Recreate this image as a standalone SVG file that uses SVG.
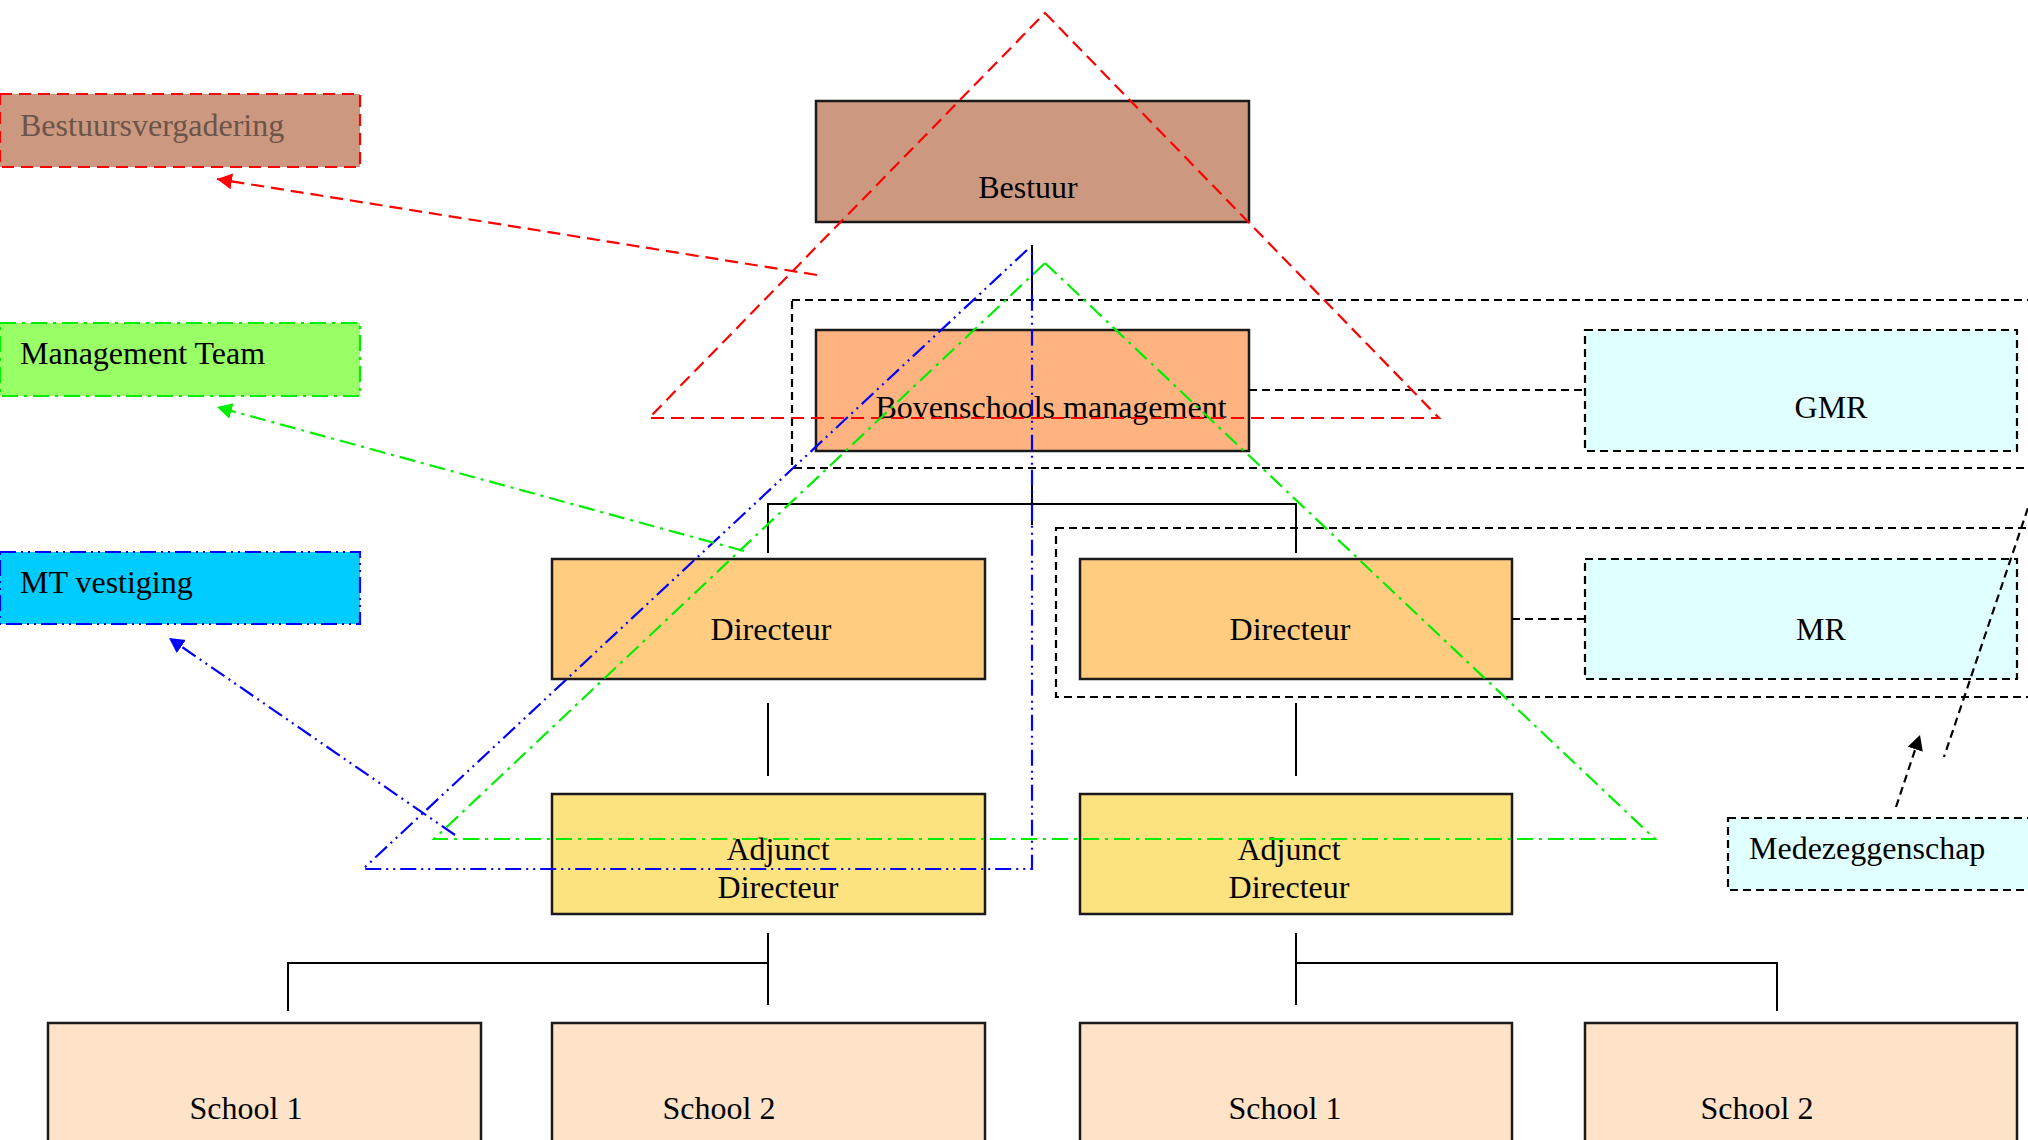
<svg xmlns="http://www.w3.org/2000/svg" width="2028" height="1140" viewBox="0 0 2028 1140">
<style>
  .box { stroke: #1a1a1a; stroke-width: 2.5; }
  .lbl { font-family: "Liberation Serif", "Times New Roman", serif; font-size: 32px; fill: #000; }
  .mid { text-anchor: middle; }
  .tree { fill: none; stroke: #000; stroke-width: 2; }
  .blk-dash { fill: none; stroke: #000; stroke-width: 2.2; stroke-dasharray: 8,5; }
  .red-dash { fill: none; stroke: #ff0000; stroke-width: 2.2; stroke-dasharray: 13,7; }
  .grn-dd { fill: none; stroke: #00ee00; stroke-width: 2.2; stroke-dasharray: 16,6,3,6; }
  .blu-ddd { fill: none; stroke: #0000ff; stroke-width: 2.2; stroke-dasharray: 16,5,2,5,2,5; }
</style>
<defs>
  <marker id="arRed" markerUnits="userSpaceOnUse" markerWidth="16" markerHeight="18" refX="15" refY="8" orient="auto">
    <path d="M0,0 L15,8 L0,16 z" fill="#ff0000"/>
  </marker>
  <marker id="arGrn" markerUnits="userSpaceOnUse" markerWidth="16" markerHeight="18" refX="15" refY="8" orient="auto">
    <path d="M0,0 L15,8 L0,16 z" fill="#00ee00"/>
  </marker>
  <marker id="arBlu" markerUnits="userSpaceOnUse" markerWidth="16" markerHeight="18" refX="15" refY="8" orient="auto">
    <path d="M0,0 L15,8 L0,16 z" fill="#0000ff"/>
  </marker>
  <marker id="arBlk" markerUnits="userSpaceOnUse" markerWidth="16" markerHeight="18" refX="15" refY="8" orient="auto">
    <path d="M0,0 L15,8 L0,16 z" fill="#000"/>
  </marker>
</defs>
<rect width="2028" height="1140" fill="#ffffff"/>

<!-- legend nodes -->
<g id="bestuursvergadering">
  <rect x="0" y="94" width="360" height="73" fill="#cc9980" stroke="#ff0000" stroke-width="2.2" stroke-dasharray="12,7"/>
  <text class="lbl" x="20" y="136" style="fill:#6b5449">Bestuursvergadering</text>
</g>
<g id="management-team">
  <rect x="0" y="323" width="360" height="73" fill="#99ff66" stroke="#00ee00" stroke-width="2.2" stroke-dasharray="16,6,3,6"/>
  <text class="lbl" x="20" y="364">Management Team</text>
</g>
<g id="mt-vestiging">
  <rect x="0" y="552" width="360" height="72" fill="#00ccff" stroke="#0000ff" stroke-width="2.2" stroke-dasharray="16,5,2,5,2,5"/>
  <text class="lbl" x="20" y="593">MT vestiging</text>
</g>

<!-- org nodes -->
<g id="bestuur">
  <rect class="box" x="816" y="101" width="433" height="121" fill="#cc9980"/>
  <text class="lbl mid" x="1028" y="198">Bestuur</text>
</g>
<g id="bovenschools-management">
  <rect class="box" x="816" y="330" width="433" height="121" fill="#ffb380"/>
  <text class="lbl mid" x="1051" y="418">Bovenschools management</text>
</g>
<g id="gmr">
  <rect x="1585" y="330" width="432" height="121" fill="#e0ffff" stroke="#000" stroke-width="2.2" stroke-dasharray="8,5"/>
  <text class="lbl mid" x="1831" y="418">GMR</text>
</g>
<g id="directeur-1">
  <rect class="box" x="552" y="559" width="433" height="120" fill="#ffcc80"/>
  <text class="lbl mid" x="771" y="640">Directeur</text>
</g>
<g id="directeur-2">
  <rect class="box" x="1080" y="559" width="432" height="120" fill="#ffcc80"/>
  <text class="lbl mid" x="1290" y="640">Directeur</text>
</g>
<g id="mr">
  <rect x="1585" y="559" width="432" height="120" fill="#e0ffff" stroke="#000" stroke-width="2.2" stroke-dasharray="8,5"/>
  <text class="lbl mid" x="1821" y="640">MR</text>
</g>
<g id="adjunct-directeur-1">
  <rect class="box" x="552" y="794" width="433" height="120" fill="#fde280"/>
  <text class="lbl mid" x="778" y="860">Adjunct</text>
  <text class="lbl mid" x="778" y="898">Directeur</text>
</g>
<g id="adjunct-directeur-2">
  <rect class="box" x="1080" y="794" width="432" height="120" fill="#fde280"/>
  <text class="lbl mid" x="1289" y="860">Adjunct</text>
  <text class="lbl mid" x="1289" y="898">Directeur</text>
</g>
<g id="medezeggenschap">
  <rect x="1728" y="818" width="320" height="72" fill="#e0ffff" stroke="#000" stroke-width="2.2" stroke-dasharray="8,5"/>
  <text class="lbl" x="1749" y="859">Medezeggenschap</text>
</g>
<g id="school-1a">
  <rect class="box" x="48" y="1023" width="433" height="125" fill="#ffe3c9"/>
  <text class="lbl mid" x="246" y="1119">School 1</text>
</g>
<g id="school-2a">
  <rect class="box" x="552" y="1023" width="433" height="125" fill="#ffe3c9"/>
  <text class="lbl mid" x="719" y="1119">School 2</text>
</g>
<g id="school-1b">
  <rect class="box" x="1080" y="1023" width="432" height="125" fill="#ffe3c9"/>
  <text class="lbl mid" x="1285" y="1119">School 1</text>
</g>
<g id="school-2b">
  <rect class="box" x="1585" y="1023" width="432" height="125" fill="#ffe3c9"/>
  <text class="lbl mid" x="1757" y="1119">School 2</text>
</g>

<g id="connectors">
  <!-- org tree -->
  <line class="tree" x1="1032" y1="245" x2="1032" y2="300"/>
  <line class="tree" x1="1032" y1="473" x2="1032" y2="525"/>
  <polyline class="tree" points="768,553 768,504 1296,504 1296,553"/>
  <line class="tree" x1="768" y1="703" x2="768" y2="776"/>
  <line class="tree" x1="1296" y1="703" x2="1296" y2="776"/>
  <line class="tree" x1="768" y1="933" x2="768" y2="1005"/>
  <polyline class="tree" points="768,963 288,963 288,1011"/>
  <line class="tree" x1="1296" y1="933" x2="1296" y2="1005"/>
  <polyline class="tree" points="1296,963 1777,963 1777,1011"/>

  <!-- group containers and links -->
  <rect class="blk-dash" x="792" y="300" width="1260" height="168"/>
  <rect class="blk-dash" x="1056" y="528" width="996" height="169"/>
  <line class="blk-dash" x1="1249" y1="390" x2="1585" y2="390"/>
  <line class="blk-dash" x1="1512" y1="619" x2="1585" y2="619"/>
  <line class="blk-dash" x1="2032" y1="496" x2="1944" y2="757"/>
  <line class="blk-dash" x1="1896" y1="807" x2="1920" y2="735" marker-end="url(#arBlk)"/>

  <!-- pyramids -->
  <polygon class="red-dash" points="1045,13 1439,418 649,418"/>
  <polygon class="grn-dd" points="1045,263 1655,839 434,839"/>
  <polyline class="blu-ddd" points="1027,250 363,869 1032,869 1032,250"/>

  <!-- legend arrows -->
  <line class="red-dash" x1="817" y1="275" x2="217" y2="179" marker-end="url(#arRed)"/>
  <line class="grn-dd" x1="744" y1="551" x2="217" y2="407" marker-end="url(#arGrn)"/>
  <line class="blu-ddd" x1="455" y1="835" x2="169" y2="638" marker-end="url(#arBlu)"/>
</g>
</svg>
